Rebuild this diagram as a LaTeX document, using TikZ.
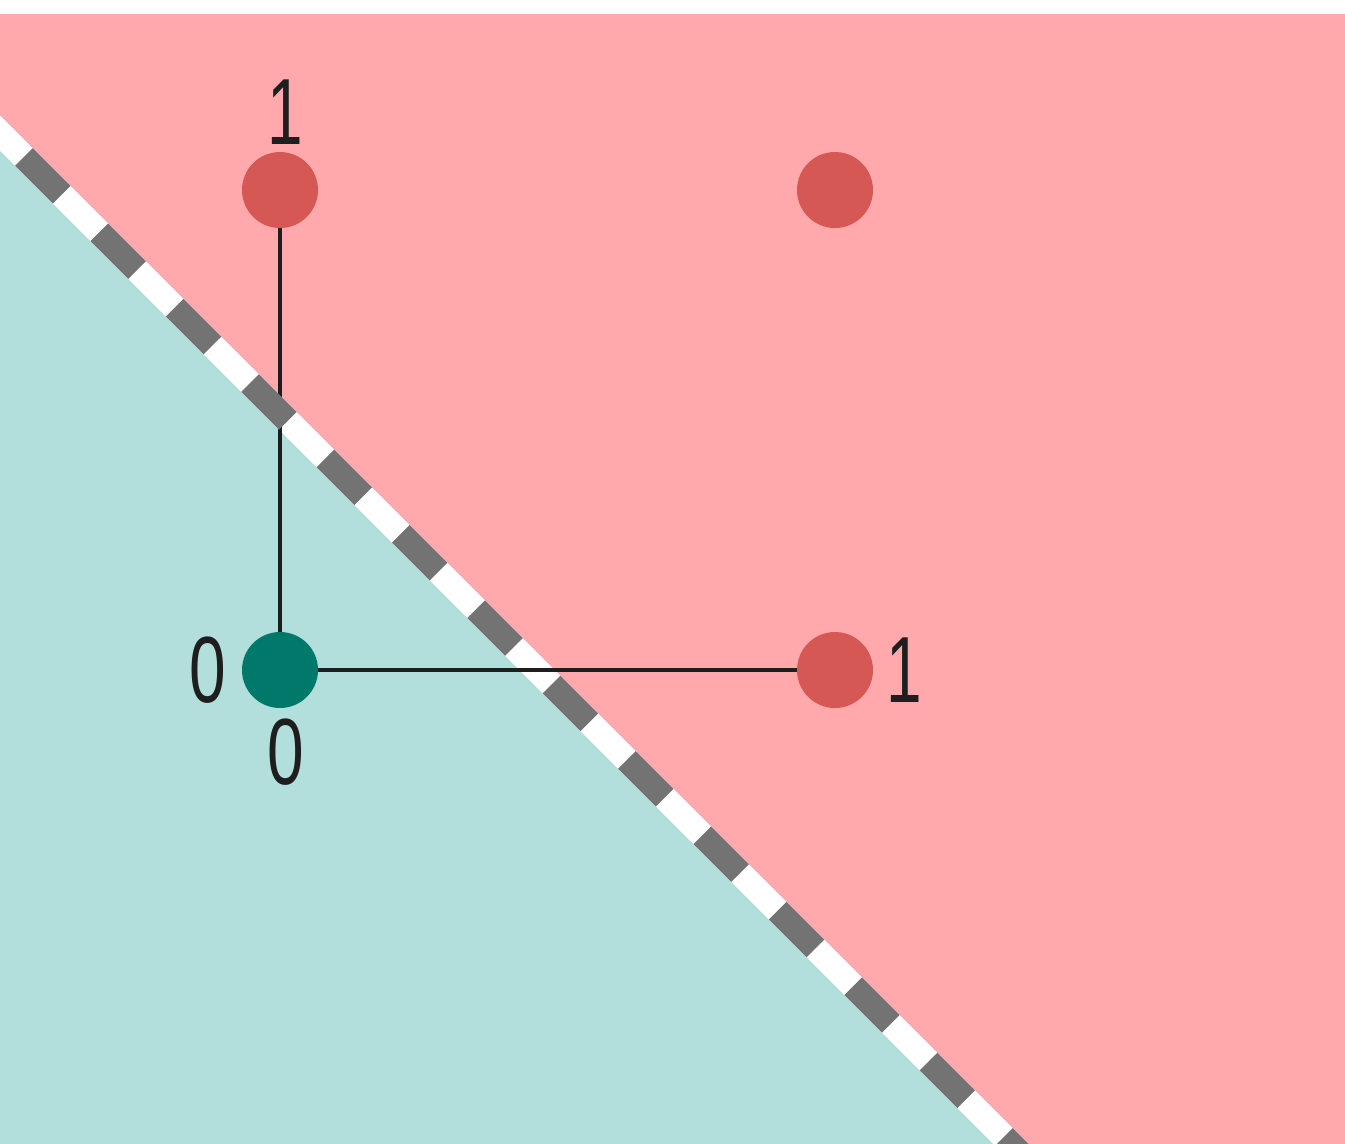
\documentclass[tikz,border=0pt]{standalone}
\usepackage{fontspec}
\setmainfont{Liberation Sans}
\definecolor{pinkbg}{HTML}{FFA9AD}
\definecolor{tealbg}{HTML}{B2DFDB}
\definecolor{reddot}{HTML}{D55855}
\definecolor{tealdot}{HTML}{00796B}
\definecolor{dashgray}{HTML}{737373}
\definecolor{linec}{HTML}{1E1E1E}
\pgfdeclarelayer{back}
\pgfdeclarelayer{lines}
\pgfdeclarelayer{dashes}
\pgfsetlayers{back,lines,dashes,main}
\begin{document}
\begin{tikzpicture}[x=1pt,y=-1pt,
  dot/.style={circle,inner sep=0pt,minimum size=76pt},
  lbl/.style={inner sep=0pt,text=linec,font=\fontsize{94}{100}\selectfont},
  edge/.style={line width=4pt,draw=linec}]
\useasboundingbox (0,0) rectangle (1345,1144);
\begin{pgfonlayer}{back}
  \fill[white] (0,0) rectangle (1345,1144);
  \fill[pinkbg] (0,13.5) rectangle (1345,1144);
  \fill[tealbg] (0,133) -- (1011,1144) -- (0,1144) -- cycle;
  \begin{scope}
    \clip (0,13.5) rectangle (1345,1144);
    \draw[white,line width=25pt] (-50,83) -- (1100,1233);
  \end{scope}
\end{pgfonlayer}
\begin{pgfonlayer}{dashes}
  \begin{scope}
    \clip (0,13.5) rectangle (1345,1144);
    \draw[dashgray,line width=25pt,dash pattern=on 53.3pt off 53.3pt,dash phase=2pt] (-50,83) -- (1100,1233);
  \end{scope}
\end{pgfonlayer}
% dots
\node[dot,fill=reddot] (p01) at (280,190) {};
\node[dot,fill=reddot] (p11) at (835,190) {};
\node[dot,fill=tealdot] (p00) at (280,670) {};
\node[dot,fill=reddot] (p10) at (835,670) {};
% connectors
\begin{pgfonlayer}{lines}
  \draw[edge] (p00.center) -- (p01.center);
  \draw[edge] (p00.center) -- (p10.center);
\end{pgfonlayer}
% labels
\node[lbl] (l01) at (285,112) {\scalebox{0.68}[1]{1}};
\node[lbl] (l00a) at (208,670) {\scalebox{0.7}[1]{0}};
\node[lbl] (l00b) at (286,752) {\scalebox{0.7}[1]{0}};
\node[lbl] (l10) at (904,670) {\scalebox{0.68}[1]{1}};
\end{tikzpicture}
\end{document}
